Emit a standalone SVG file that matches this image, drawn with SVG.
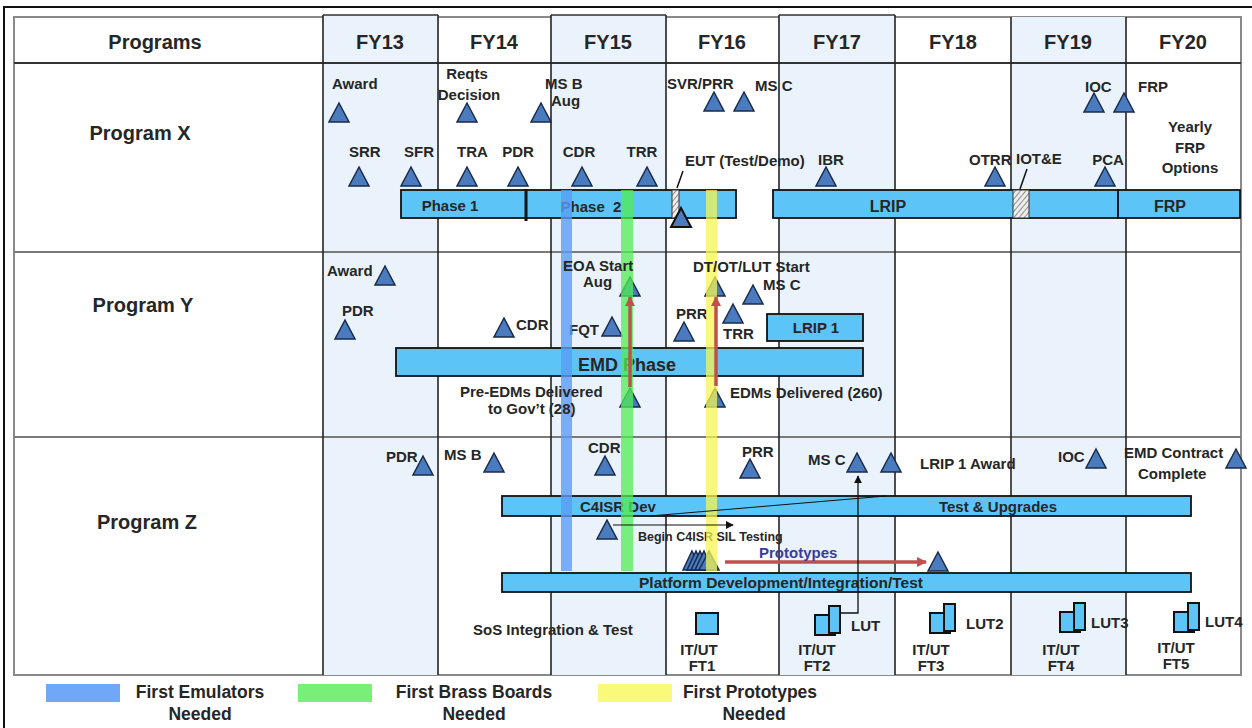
<svg xmlns="http://www.w3.org/2000/svg" width="1252" height="728" viewBox="0 0 1252 728">
<defs>
<style>
.t{font-family:"Liberation Sans",Arial,sans-serif;font-weight:bold;font-size:15px;fill:#262626}
.c{text-anchor:middle}
.h{font-size:20px}
.s{font-size:12.5px}
.lg{font-size:17.5px}
.bar{fill:#5dc4f7;stroke:#111;stroke-width:1.8}
.tri{fill:#4a7bbf;stroke:#1b2a48;stroke-width:1.5}
.shade{fill:#eaf3fc}
.vl{stroke:#222;stroke-width:1.6}
.hl{stroke:#7a7a7a;stroke-width:2.2}
.icon{fill:#5dc4f7;stroke:#111;stroke-width:2}
</style>
<path id="tri" d="M0 0 L10 19 L-10 19 Z"/>
<pattern id="hatch" width="4" height="4" patternUnits="userSpaceOnUse" patternTransform="rotate(40)">
<rect width="4" height="4" fill="#eeeeee"/>
<line x1="0" y1="0" x2="0" y2="4" stroke="#777" stroke-width="1.6"/>
</pattern>
<marker id="arrRed" viewBox="0 0 10 10" refX="9" refY="5" markerWidth="3" markerHeight="3" orient="auto" markerUnits="strokeWidth">
<path d="M0 0 L10 5 L0 10 Z" fill="#c0504d"/>
</marker>
<marker id="arrBlk" viewBox="0 0 10 10" refX="9" refY="5" markerWidth="8" markerHeight="8" orient="auto" markerUnits="userSpaceOnUse">
<path d="M0 0 L10 5 L0 10 Z" fill="#111"/>
</marker>
</defs>

<rect width="1252" height="728" fill="#ffffff"/>
<!-- outer frame -->
<path d="M4 728 V7 H1252" fill="none" stroke="#111" stroke-width="2"/>

<!-- table -->
<g id="table">
<rect x="14" y="17" width="1227" height="658" fill="#ffffff" stroke="#8a8a8a" stroke-width="2"/>
<rect class="shade" x="323" y="15" width="115" height="660"/>
<rect class="shade" x="551" y="15" width="115" height="660"/>
<rect class="shade" x="779" y="15" width="116" height="660"/>
<rect class="shade" x="1011" y="17" width="115" height="658"/>
<path d="M323 15 H438 M551 15 H666 M779 15 H895" stroke="#333" stroke-width="1.5"/>
<line class="hl" x1="14" y1="63" x2="1241" y2="63" style="stroke:#333"/>
<line class="hl" x1="14" y1="252" x2="1241" y2="252"/>
<line class="hl" x1="14" y1="437" x2="1241" y2="437"/>
<g class="vl">
<line x1="323" y1="15" x2="323" y2="675"/>
<line x1="438" y1="15" x2="438" y2="675"/>
<line x1="551" y1="15" x2="551" y2="675"/>
<line x1="666" y1="15" x2="666" y2="675"/>
<line x1="779" y1="15" x2="779" y2="675"/>
<line x1="895" y1="15" x2="895" y2="675"/>
<line x1="1011" y1="17" x2="1011" y2="675"/>
<line x1="1126" y1="17" x2="1126" y2="675"/>
</g>
<text class="t h c" x="155" y="49">Programs</text>
<text class="t h c" x="380" y="49">FY13</text>
<text class="t h c" x="494" y="49">FY14</text>
<text class="t h c" x="608" y="49">FY15</text>
<text class="t h c" x="722" y="49">FY16</text>
<text class="t h c" x="837" y="49">FY17</text>
<text class="t h c" x="953" y="49">FY18</text>
<text class="t h c" x="1068" y="49">FY19</text>
<text class="t h c" x="1183" y="49">FY20</text>
<text class="t h c" x="140" y="140">Program X</text>
<text class="t h c" x="143" y="312">Program Y</text>
<text class="t h c" x="147" y="529">Program Z</text>
</g>

<!-- bars -->
<g id="x-phase1"><rect class="bar" x="401" y="190" width="125" height="28"/><text class="t c" x="450" y="211">Phase 1</text></g>
<g id="x-phase2"><rect class="bar" x="526" y="190" width="210" height="28"/><text class="t c" x="591" y="212" xml:space="preserve">Phase  2</text>
<line x1="526" y1="189" x2="526" y2="221" stroke="#111" stroke-width="3"/>
<rect x="672" y="190" width="7" height="28" fill="url(#hatch)" stroke="#333" stroke-width="1"/></g>
<g id="x-lrip"><rect class="bar" x="773" y="190" width="345" height="28"/><text class="t c" x="888" y="212" style="font-size:16px">LRIP</text>
<rect x="1013" y="190" width="16" height="28" fill="url(#hatch)" stroke="#333" stroke-width="1"/></g>
<g id="x-frp"><rect class="bar" x="1118" y="190" width="122" height="28"/><text class="t c" x="1170" y="212" style="font-size:16px">FRP</text></g>
<g id="y-emd"><rect class="bar" x="396" y="348" width="467" height="28"/><text class="t" x="578" y="371" style="font-size:18px">EMD Phase</text></g>
<g id="y-lrip1"><rect class="bar" x="767" y="314" width="96" height="27"/><text class="t c" x="816" y="333">LRIP 1</text></g>
<g id="z-c4isr"><rect class="bar" x="502" y="496" width="689" height="20"/><text class="t" x="580" y="512">C4ISR Dev</text><text class="t c" x="998" y="512">Test &amp; Upgrades</text></g>
<g id="z-platform"><rect class="bar" x="502" y="573" width="689" height="19"/><text class="t" x="639" y="588" style="font-size:15.5px">Platform Development/Integration/Test</text></g>

<!-- Program X milestones -->
<g id="x-award"><use href="#tri" class="tri" x="339" y="103"/><text class="t" x="332" y="89">Award</text></g>
<g id="x-srr"><use href="#tri" class="tri" x="359" y="167"/><text class="t" x="349" y="157">SRR</text></g>
<g id="x-sfr"><use href="#tri" class="tri" x="411" y="167"/><text class="t" x="404" y="157">SFR</text></g>
<g id="x-reqts"><use href="#tri" class="tri" x="467" y="103"/><text class="t c" x="467" y="79">Reqts</text><text class="t c" x="469" y="100">Decision</text></g>
<g id="x-msb"><use href="#tri" class="tri" x="541" y="103"/><text class="t" x="545" y="89">MS B</text><text class="t" x="551" y="106">Aug</text></g>
<g id="x-tra"><use href="#tri" class="tri" x="467" y="167"/><text class="t" x="457" y="157">TRA</text></g>
<g id="x-pdr"><use href="#tri" class="tri" x="518" y="167"/><text class="t c" x="518" y="157">PDR</text></g>
<g id="x-cdr"><use href="#tri" class="tri" x="582" y="167"/><text class="t c" x="579" y="157">CDR</text></g>
<g id="x-trr"><use href="#tri" class="tri" x="647" y="167"/><text class="t c" x="642" y="157">TRR</text></g>
<g id="x-svr"><use href="#tri" class="tri" x="714" y="92"/><text class="t" x="667" y="89">SVR/PRR</text></g>
<g id="x-msc"><use href="#tri" class="tri" x="744" y="92"/><text class="t" x="755" y="91">MS C</text></g>
<g id="x-eut"><text class="t" x="685" y="166">EUT (Test/Demo)</text></g>
<g id="x-ibr"><use href="#tri" class="tri" x="826" y="167"/><text class="t" x="818" y="165">IBR</text></g>
<g id="x-otrr"><use href="#tri" class="tri" x="995" y="167"/><text class="t" x="969" y="165">OTRR</text></g>
<g id="x-iote"><text class="t" x="1016" y="164">IOT&amp;E</text></g>
<g id="x-pca"><use href="#tri" class="tri" x="1105" y="167"/><text class="t c" x="1108" y="165">PCA</text></g>
<g id="x-ioc"><use href="#tri" class="tri" x="1094" y="93"/><text class="t" x="1085" y="92">IOC</text></g>
<g id="x-frpm"><use href="#tri" class="tri" x="1124" y="93"/><text class="t" x="1138" y="92">FRP</text></g>
<g id="x-yearly"><text class="t c" x="1190" y="132">Yearly</text><text class="t c" x="1190" y="153">FRP</text><text class="t c" x="1190" y="173">Options</text></g>

<!-- Program Y milestones -->
<g id="y-award"><use href="#tri" class="tri" x="385" y="266"/><text class="t" x="327" y="276">Award</text></g>
<g id="y-pdr"><use href="#tri" class="tri" x="345" y="320"/><text class="t" x="342" y="316">PDR</text></g>
<g id="y-cdr"><use href="#tri" class="tri" x="504" y="318"/><text class="t" x="516" y="330">CDR</text></g>
<g id="y-fqt"><use href="#tri" class="tri" x="612" y="317"/><text class="t" x="569" y="335">FQT</text></g>
<g id="y-eoa"><use href="#tri" class="tri" x="630" y="277"/></g>
<g id="y-preedm"><use href="#tri" class="tri" x="630" y="388"/></g>
<g id="y-dtot"><use href="#tri" class="tri" x="715" y="277"/></g>
<g id="y-msc"><use href="#tri" class="tri" x="753" y="285"/><text class="t" x="763" y="290">MS C</text></g>
<g id="y-prr"><use href="#tri" class="tri" x="684" y="322"/><text class="t" x="676" y="319">PRR</text></g>
<g id="y-trr"><use href="#tri" class="tri" x="733" y="304"/><text class="t" x="723" y="339">TRR</text></g>
<g id="y-edm"><use href="#tri" class="tri" x="715" y="388"/></g>

<!-- Program Z milestones -->
<g id="z-pdr"><use href="#tri" class="tri" x="423" y="456"/><text class="t" x="386" y="462">PDR</text></g>
<g id="z-msb"><use href="#tri" class="tri" x="494" y="453"/><text class="t" x="444" y="460">MS B</text></g>
<g id="z-cdr"><use href="#tri" class="tri" x="605" y="456"/><text class="t" x="588" y="453">CDR</text></g>
<g id="z-prr"><use href="#tri" class="tri" x="750" y="459"/><text class="t" x="742" y="457">PRR</text></g>
<g id="z-msc"><use href="#tri" class="tri" x="857" y="453"/><text class="t" x="808" y="465">MS C</text></g>
<g id="z-lrip1"><use href="#tri" class="tri" x="891" y="453"/><text class="t" x="920" y="469">LRIP 1 Award</text></g>
<g id="z-ioc"><use href="#tri" class="tri" x="1096" y="449"/><text class="t" x="1058" y="462">IOC</text></g>
<g id="z-emd"><use href="#tri" class="tri" x="1236" y="449"/><text class="t" x="1124" y="458">EMD Contract</text><text class="t" x="1138" y="479">Complete</text></g>
<g id="z-sil"><use href="#tri" class="tri" x="607" y="520"/><text class="t s" x="638" y="541">Begin C4ISR SIL Testing</text></g>
<g id="z-protos">
<path class="tri" d="M692 551 L701 570 L683 570 Z"/>
<path class="tri" d="M696 551 L705 570 L687 570 Z"/>
<path class="tri" d="M700 551 L709 570 L691 570 Z"/>
<path class="tri" d="M704 551 L713 570 L695 570 Z"/>
<use href="#tri" class="tri" x="709" y="551"/>
</g>
<g id="z-proto-end"><use href="#tri" class="tri" x="938" y="552"/></g>
<g id="z-sos"><text class="t" x="473" y="635">SoS Integration &amp; Test</text></g>
<g id="z-ft1"><rect class="icon" x="696" y="613" width="22" height="21"/><text class="t c" x="699" y="655">IT/UT</text><text class="t c" x="702" y="671">FT1</text></g>
<g id="z-ft2"><rect class="icon" x="815" y="615" width="20" height="20"/><rect class="icon" x="829" y="606" width="11" height="27"/><text class="t" x="851" y="631">LUT</text><text class="t c" x="817" y="655">IT/UT</text><text class="t c" x="817" y="671">FT2</text></g>
<g id="z-ft3"><rect class="icon" x="930" y="613" width="20" height="20"/><rect class="icon" x="944" y="604" width="11" height="27"/><text class="t" x="966" y="629">LUT2</text><text class="t c" x="931" y="655">IT/UT</text><text class="t c" x="931" y="671">FT3</text></g>
<g id="z-ft4"><rect class="icon" x="1060" y="612" width="20" height="20"/><rect class="icon" x="1074" y="603" width="11" height="27"/><text class="t" x="1091" y="628">LUT3</text><text class="t c" x="1061" y="655">IT/UT</text><text class="t c" x="1061" y="671">FT4</text></g>
<g id="z-ft5"><rect class="icon" x="1174" y="612" width="20" height="20"/><rect class="icon" x="1188" y="603" width="11" height="27"/><text class="t" x="1205" y="627">LUT4</text><text class="t c" x="1176" y="653">IT/UT</text><text class="t c" x="1176" y="669">FT5</text></g>

<!-- bands -->
<g id="bands">
<rect x="561" y="190" width="11" height="381" fill="#5a9cf5" opacity="0.8"/>
<rect x="621" y="190" width="12" height="381" fill="#52ee52" opacity="0.75"/>
<rect x="706" y="190" width="11" height="381" fill="#f5f550" opacity="0.75"/>
</g>

<!-- triangle on top of EUT bar -->
<g id="x-eut-tri"><use href="#tri" x="681" y="208" style="fill:#4a7bbf;stroke:#111;stroke-width:2"/></g>

<!-- connectors -->
<g id="connectors" fill="none">
<line x1="683" y1="171" x2="677" y2="188" stroke="#111" stroke-width="1.5"/>
<line x1="1027" y1="169" x2="1020" y2="189" stroke="#111" stroke-width="1.5"/>
<line x1="630" y1="387" x2="630" y2="297" stroke="#c0504d" stroke-width="3.5" marker-end="url(#arrRed)"/>
<line x1="716" y1="386" x2="716" y2="297" stroke="#c0504d" stroke-width="3.5" marker-end="url(#arrRed)"/>
<line x1="650" y1="516" x2="886" y2="496" stroke="#111" stroke-width="1"/>
<line x1="613" y1="525" x2="733" y2="525" stroke="#111" stroke-width="1.2" marker-end="url(#arrBlk)"/>
<line x1="725" y1="562" x2="926" y2="562" stroke="#c0504d" stroke-width="3.5" marker-end="url(#arrRed)"/>
<path d="M840 613 H858 V476" stroke="#111" stroke-width="1.3" marker-end="url(#arrBlk)"/>
</g>

<!-- labels over bands -->
<g id="band-labels">
<text class="t" x="563" y="271">EOA Start</text>
<text class="t" x="583" y="287">Aug</text>
<text class="t" x="460" y="397">Pre-EDMs Delivered</text>
<text class="t" x="488" y="414">to Gov’t (28)</text>
<text class="t" x="693" y="272">DT/OT/LUT Start</text>
<text class="t" x="730" y="398">EDMs Delivered (260)</text>
<text class="t" x="759" y="558" style="fill:#3b3b9c">Prototypes</text>
</g>

<!-- legend -->
<g id="legend">
<rect x="46" y="684" width="74" height="18" fill="#6fa8f7"/>
<text class="t lg c" x="200" y="698">First Emulators</text>
<text class="t lg c" x="200" y="720">Needed</text>
<rect x="298" y="684" width="74" height="18" fill="#78f078"/>
<text class="t lg c" x="474" y="698">First Brass Boards</text>
<text class="t lg c" x="474" y="720">Needed</text>
<rect x="598" y="684" width="74" height="18" fill="#fafa7a"/>
<text class="t lg c" x="750" y="698">First Prototypes</text>
<text class="t lg c" x="754" y="720">Needed</text>
</g>
</svg>
